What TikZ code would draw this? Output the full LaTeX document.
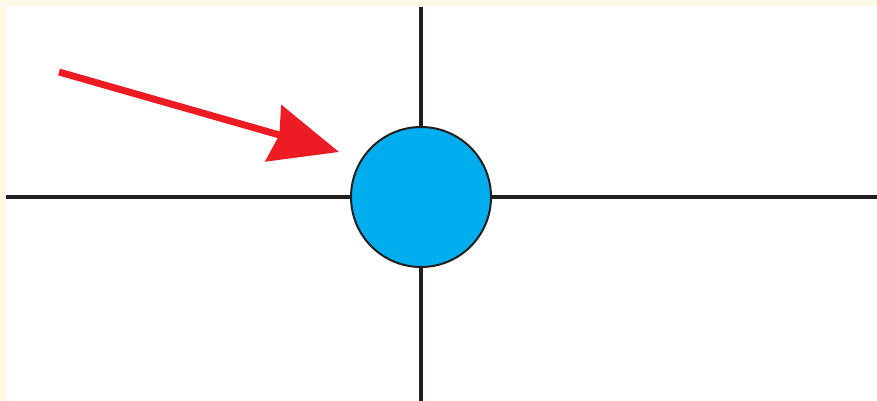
\documentclass[tikz,border=0pt]{standalone}
\usetikzlibrary{arrows.meta}
\definecolor{cream}{HTML}{FEF9E6}
\definecolor{dotblue}{HTML}{00AEEF}
\definecolor{arrowred}{HTML}{ED1C24}
\definecolor{dark}{HTML}{231F20}
\tikzset{
  axis/.style={draw=dark, line width=4pt},
  dot/.style={circle, minimum size=140pt, inner sep=0pt, fill=dotblue, draw=dark, line width=2pt},
  pointer/.style={draw=arrowred, fill=arrowred, line width=7pt, -{Stealth[length=68pt,width=58pt,inset=6pt]}}
}
\begin{document}
\begin{tikzpicture}[x=1pt,y=-1pt]
\useasboundingbox (0,0) rectangle (877,401);
\fill[cream] (0,0) rectangle (877,401);
\fill[white] (6,6) rectangle (877,401);
\node[dot] (c) at (421,197) {};
\coordinate (L) at (6,197);
\coordinate (R) at (877,197);
\coordinate (T) at (421,7);
\coordinate (B) at (421,401);
\draw[axis] (L) -- (c);
\draw[axis] (c) -- (R);
\draw[axis] (T) -- (c);
\draw[axis] (c) -- (B);
\coordinate (s) at (59,72);
\coordinate (t) at (339,152);
\draw[pointer] (s) -- (t);
\end{tikzpicture}
\end{document}
